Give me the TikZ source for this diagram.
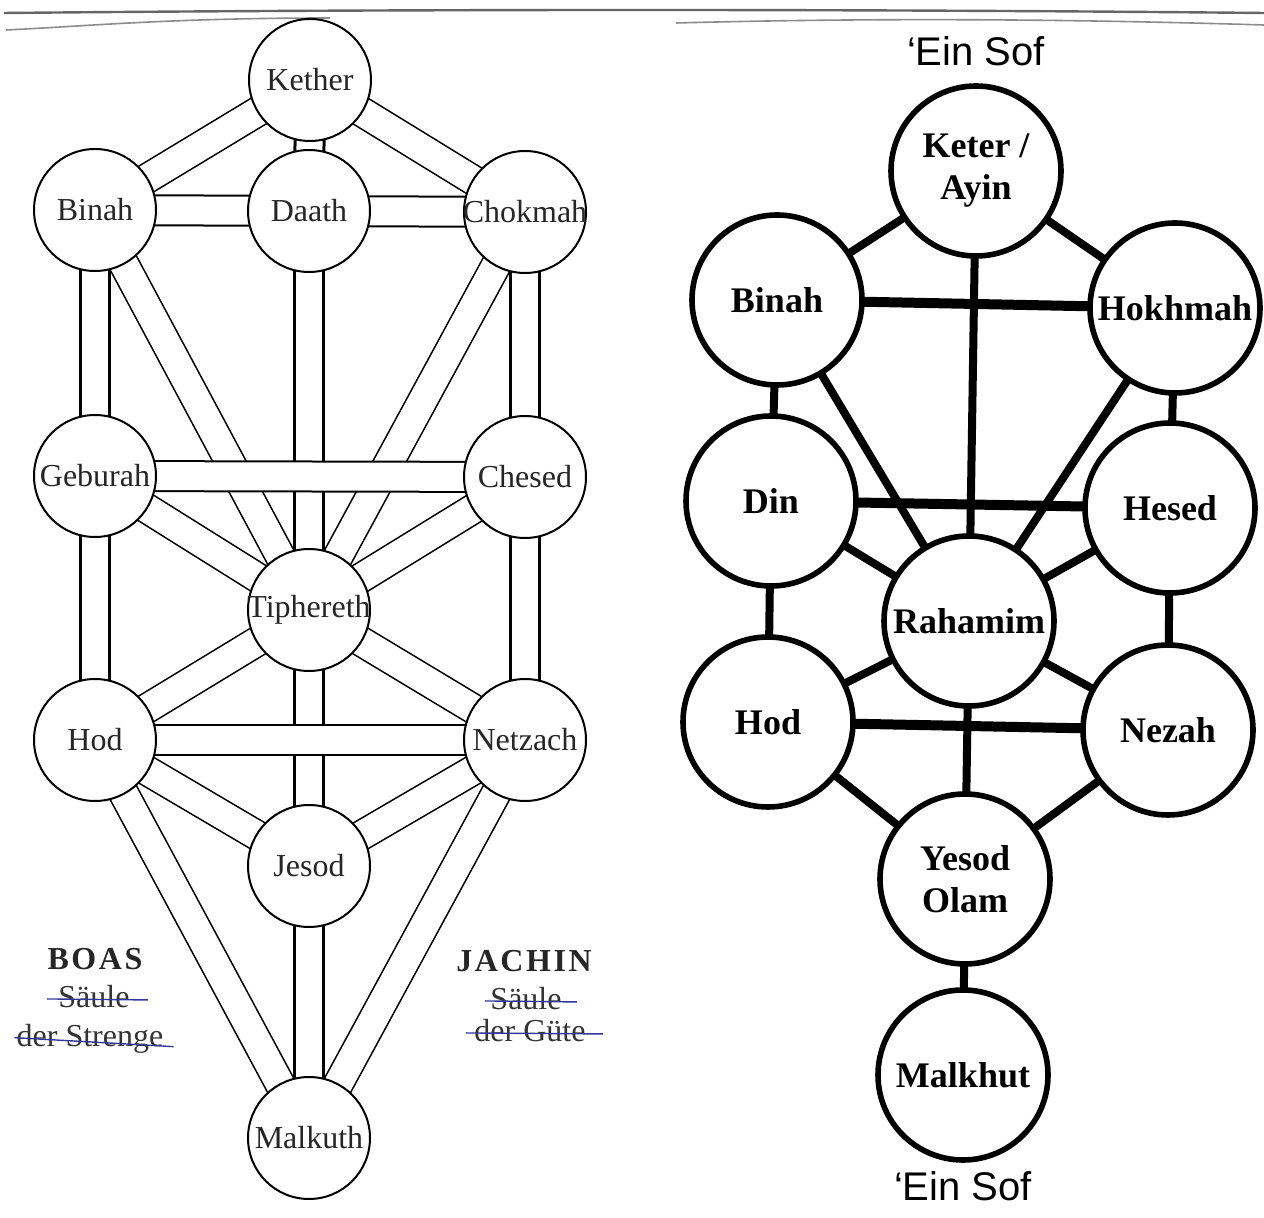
\documentclass[tikz,border=0pt]{standalone}
\usepackage{fontspec}
\setmainfont{Liberation Serif}
\newfontfamily\einfont{Liberation Sans}
\usetikzlibrary{positioning}

\pgfdeclarelayer{bg}
\pgfsetlayers{bg,main}

\definecolor{inkblue}{RGB}{50,55,150}
\newcommand\treefont{\fontsize{16}{19}\selectfont}
\newcommand\sfirafont{\fontsize{18}{21}\selectfont\bfseries}

\begin{document}
\begin{tikzpicture}[x=0.5pt, y=-0.5pt,
    sefira/.style={circle, draw, line width=1pt, fill=white, minimum size=61pt,
        inner sep=0pt, label={[font=\treefont, text=black!85]center:#1}},
    sfira/.style={circle, draw, line width=2.8pt, fill=white, minimum size=85pt,
        inner sep=0pt, label={[font=\sfirafont, align=center]center:#1}},
    diag/.style={double=white, line width=0.8pt, double distance=14pt},
    pillar/.style={double=white, line width=1.5pt, double distance=13pt},
    beam/.style={double=white, line width=1pt, double distance=14pt},
    thin/.style={line width=4pt},
    bar/.style={line width=5pt},
    colname/.style={font=\fontsize{16}{19}\selectfont\bfseries\addfontfeature{LetterSpace=8},
        text=black!85, inner sep=0pt},
    coltext/.style={font=\treefont, text=black!80, inner sep=0pt},
    strike/.style={inkblue, line width=0.7pt}]

  \useasboundingbox (0,0) rectangle (1264,1218);

  % scan edges
  \draw[black!60, line width=1.2pt] (4,13) .. controls (420,9) and (860,9) .. (1264,13);
  \draw[black!45, line width=0.8pt] (6,30) .. controls (90,26) and (170,18) .. (330,18);
  \draw[black!45, line width=0.8pt] (676,23) .. controls (900,17) and (1100,20) .. (1264,25);

  % tree of life, left
  \node[sefira=Kether]    (ket) at (310,80)   {};
  \node[sefira=Binah]     (bin) at (95,210)   {};
  \node[sefira=Daath]     (daa) at (309,211)  {};
  \node[sefira=Chokmah]   (cho) at (525,212)  {};
  \node[sefira=Geburah]   (geb) at (95,476)   {};
  \node[sefira=Chesed]    (che) at (525,477)  {};
  \node[sefira=Tiphereth] (tip) at (309,610)  {};
  \node[sefira=Hod]       (hod) at (95,740)   {};
  \node[sefira=Netzach]   (net) at (525,740)  {};
  \node[sefira=Jesod]     (jes) at (309,866)  {};
  \node[sefira=Malkuth]   (mal) at (309,1138) {};

  \begin{pgfonlayer}{bg}
    \path (ket.center) edge[diag] (bin.center)
                       edge[diag] (cho.center)
          (tip.center) edge[diag] (bin.center)
                       edge[diag] (cho.center)
                       edge[diag] (geb.center)
                       edge[diag] (che.center)
                       edge[diag] (hod.center)
                       edge[diag] (net.center)
          (jes.center) edge[diag] (hod.center)
                       edge[diag] (net.center)
          (mal.center) edge[diag] (hod.center)
                       edge[diag] (net.center);
    \path (ket.center) edge[pillar] (daa.center)
          (daa.center) edge[pillar] (tip.center)
          (tip.center) edge[pillar] (jes.center)
          (jes.center) edge[pillar] (mal.center)
          (bin.center) edge[pillar] (geb.center)
          (geb.center) edge[pillar] (hod.center)
          (cho.center) edge[pillar] (che.center)
          (che.center) edge[pillar] (net.center);
    \path (bin.center) edge[beam] (daa.center)
          (daa.center) edge[beam] (cho.center)
          (geb.center) edge[beam] (che.center)
          (hod.center) edge[beam] (net.center);
  \end{pgfonlayer}

  \node[colname] (boas)  at (95,959)  {BOAS};
  \node[coltext] (boas1) at (94,997)  {Säule};
  \node[coltext] (boas2) at (90,1039) {der Strenge};
  \node[colname] (jach)  at (524,961) {JACHIN};
  \node[coltext] (jach1) at (526,999) {Säule};
  \node[coltext] (jach2) at (530,1031) {der Güte};
  \draw[strike] ([xshift=-5.5pt, yshift=4.5pt]boas1.base west) -- ([xshift=9pt, yshift=4pt]boas1.base east);
  \draw[strike] ([xshift=-1pt, yshift=4.5pt]boas2.base west) -- ([xshift=5pt, yshift=0pt]boas2.base east);
  \draw[strike] ([xshift=-2.5pt, yshift=4.5pt]jach1.base west) -- ([xshift=7.5pt, yshift=4pt]jach1.base east);
  \draw[strike] ([xshift=-4pt, yshift=4.5pt]jach2.base west) -- ([xshift=8.5pt, yshift=4pt]jach2.base east);

  % sefirot, right
  \node[sfira={Keter /\\Ayin}] (keter)   at (976,171)  {};
  \node[sfira=Binah]           (binah)   at (777,300)  {};
  \node[sfira=Hokhmah]         (hokhmah) at (1175,308) {};
  \node[sfira=Din]             (din)     at (771,501)  {};
  \node[sfira=Hesed]           (hesed)   at (1170,508) {};
  \node[sfira=Rahamim]         (rahamim) at (969,621)  {};
  \node[sfira=Hod]             (hod2)    at (768,722)  {};
  \node[sfira=Nezah]           (nezah)   at (1168,730) {};
  \node[sfira={Yesod\\Olam}]   (yesod)   at (965,879)  {};
  \node[sfira=Malkhut]         (malkhut) at (963,1075) {};
  \node[font=\einfont\fontsize{20}{24}\selectfont] (einsof)  [above=5pt of keter]   {‘Ein Sof};
  \node[font=\einfont\fontsize{20}{24}\selectfont] (einsof2) [below=1pt of malkhut] {‘Ein Sof};

  \begin{pgfonlayer}{bg}
    \path (keter.center)   edge[thin] (binah.center)
                           edge[thin] (hokhmah.center)
                           edge[thin] (rahamim.center)
          (rahamim.center) edge[thin] (binah.center)
                           edge[thin] (hokhmah.center)
                           edge[thin] (din.center)
                           edge[thin] (hesed.center)
                           edge[thin] (hod2.center)
                           edge[thin] (nezah.center)
                           edge[thin] (yesod.center)
          (yesod.center)   edge[thin] (hod2.center)
                           edge[thin] (nezah.center)
                           edge[thin] (malkhut.center)
          (din.center)     edge[thin] (binah.center)
                           edge[thin] (hod2.center)
          (hesed.center)   edge[thin] (hokhmah.center)
                           edge[thin] (nezah.center);
    \path (binah.center) edge[bar] (hokhmah.center)
          (din.center)   edge[bar] (hesed.center)
          (hod2.center)  edge[bar] (nezah.center);
  \end{pgfonlayer}
\end{tikzpicture}
\end{document}
